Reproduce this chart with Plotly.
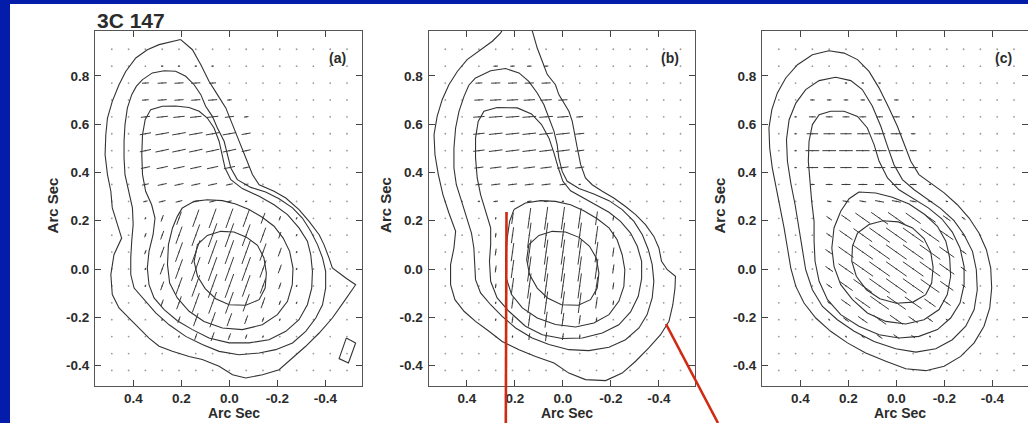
import math
import plotly.graph_objects as go

# ---------------------------------------------------------------
# 3C 147 polarization maps: total-intensity contours + E-vectors
# ---------------------------------------------------------------

# polarization sampling grid (arcsec, RA offset decreasing to the right)
GRID_X = [0.49, 0.42, 0.35, 0.28, 0.21, 0.14, 0.07, 0.0, -0.07, -0.14,
          -0.21, -0.28, -0.35, -0.42, -0.49]
GRID_Y = [0.91, 0.84, 0.77, 0.70, 0.63, 0.56, 0.49, 0.42, 0.35, 0.28,
          0.21, 0.14, 0.07, 0.0, -0.07, -0.14, -0.21, -0.28, -0.35, -0.42]
VEC_UNIT = 0.0095  # arcsec of vector length per step (hex digit)

# vector lengths, one hex digit per grid column, one string per grid row
POL_LEN_A = [
    "000000000000000", "000111100000000", "003444300000000", "003444420000000",
    "004555542000000", "005666664000000", "005666664000000", "004555553000000",
    "003444432000000", "002333321000000", "001368998521000", "00248abba731000",
    "00259bbbb841000", "00159bbbb841000", "00148abba731000", "000369aa8521000",
    "000136764210000", "000013432100000", "000000000000000", "000000000000000",
]
POL_LEN_B = [
    "000000000000000", "000222200000000", "003444400000000", "004555540000000",
    "005666653000000", "005666664000000", "005666664000000", "004555554000000",
    "003444431000000", "001222210000000", "000159aa9620000", "00027bbbb830000",
    "00038bbbb940000", "00038bbbb940000", "00027bbbb830000", "000159aa9520000",
    "000136764200000", "000013432000000", "000000000000000", "000000000000000",
]
POL_LEN_C = [
    "000000000000000", "000000000000000", "000011100000000", "002222220000000",
    "013333331000000", "015555552000000", "016666663000000", "015555554100000",
    "002344443100000", "000233443210000", "000358998642000", "00037abbba72000",
    "00048bbbbb83000", "00048bbbbb83000", "00037abbba72000", "000258aa9641000",
    "000135775310000", "000012332100000", "000000000000000", "000000000000000",
]
# position angle of the vectors on each row (degrees, counter-clockwise on the sky map)
POL_ANG_A = [0, 2, 3, 4, 6, 10, 12, 12, 12, 14, 70, 70, 70, 70, 70, 70, 70, 70, 70, 70]
POL_ANG_B = [0, 2, 2, 3, 4, 6, 7, 7, 7, 8, 82, 82, 82, 82, 82, 82, 82, 82, 82, 82]
POL_ANG_C = [0, 0, 0, 0, 0, 0, 0, 0, 0, -10, -35, -35, -35, -35, -35, -35, -35, -35, -35, -35]

# ---- contour polylines (arcsec), panel (a) ----
A_LEV1 = [(0.203, 0.950), (0.251, 0.940), (0.293, 0.929), (0.342, 0.908), (0.390, 0.874),
          (0.432, 0.818), (0.460, 0.763), (0.488, 0.694), (0.508, 0.625), (0.515, 0.556),
          (0.518, 0.473), (0.508, 0.391), (0.494, 0.322), (0.488, 0.253), (0.467, 0.184),
          (0.449, 0.128), (0.481, 0.059), (0.494, -0.023), (0.488, -0.106), (0.460, -0.161),
          (0.418, -0.203), (0.376, -0.244), (0.335, -0.286), (0.293, -0.320), (0.238, -0.341),
          (0.168, -0.362), (0.113, -0.375), (0.043, -0.403), (-0.013, -0.438), (-0.068, -0.451),
          (-0.138, -0.438), (-0.207, -0.417), (-0.263, -0.369), (-0.318, -0.320), (-0.374, -0.265),
          (-0.429, -0.203), (-0.478, -0.134), (-0.526, -0.065), (-0.485, -0.037), (-0.429, 0.004),
          (-0.415, 0.046), (-0.394, 0.101), (-0.374, 0.142), (-0.332, 0.197), (-0.290, 0.246),
          (-0.235, 0.294), (-0.186, 0.322), (-0.124, 0.349), (-0.096, 0.391), (-0.068, 0.460),
          (-0.040, 0.529), (-0.013, 0.598), (0.015, 0.667), (0.050, 0.722), (0.085, 0.777),
          (0.119, 0.846), (0.154, 0.908)]
A_LEV2 = [(0.362, 0.784), (0.321, 0.812), (0.272, 0.821), (0.224, 0.819), (0.182, 0.798),
          (0.147, 0.763), (0.119, 0.722), (0.099, 0.674), (0.071, 0.632), (0.050, 0.584),
          (0.022, 0.529), (0.008, 0.473), (-0.006, 0.418), (-0.033, 0.370), (-0.089, 0.338),
          (-0.151, 0.319), (-0.207, 0.291), (-0.263, 0.253), (-0.304, 0.211), (-0.339, 0.156),
          (-0.367, 0.101), (-0.388, 0.046), (-0.401, -0.010), (-0.401, -0.079), (-0.388, -0.148),
          (-0.360, -0.203), (-0.318, -0.258), (-0.263, -0.306), (-0.193, -0.334), (-0.124, -0.348),
          (-0.040, -0.355), (0.043, -0.341), (0.113, -0.313), (0.182, -0.279), (0.251, -0.231),
          (0.307, -0.182), (0.356, -0.127), (0.397, -0.079), (0.411, -0.023), (0.411, 0.046),
          (0.407, 0.115), (0.401, 0.184), (0.404, 0.253), (0.421, 0.322), (0.435, 0.391),
          (0.439, 0.460), (0.439, 0.529), (0.435, 0.598), (0.425, 0.667), (0.407, 0.722),
          (0.388, 0.756)]
A_LEV3 = [(0.279, 0.674), (0.328, 0.660), (0.351, 0.618), (0.362, 0.556), (0.365, 0.473),
          (0.362, 0.391), (0.349, 0.322), (0.324, 0.266), (0.310, 0.211), (0.318, 0.142),
          (0.335, 0.073), (0.342, 0.004), (0.335, -0.065), (0.314, -0.120), (0.272, -0.168),
          (0.217, -0.214), (0.154, -0.251), (0.085, -0.286), (0.001, -0.306), (-0.082, -0.306),
          (-0.165, -0.293), (-0.235, -0.258), (-0.290, -0.210), (-0.325, -0.148), (-0.343, -0.079),
          (-0.346, -0.010), (-0.339, 0.059), (-0.325, 0.115), (-0.290, 0.170), (-0.242, 0.225),
          (-0.186, 0.266), (-0.124, 0.301), (-0.054, 0.333), (-0.006, 0.370), (0.018, 0.418),
          (0.029, 0.473), (0.043, 0.529), (0.064, 0.584), (0.092, 0.625), (0.126, 0.653),
          (0.168, 0.669), (0.224, 0.675)]
A_LEV4 = [(0.196, 0.253), (0.147, 0.280), (0.092, 0.287), (0.029, 0.283), (-0.026, 0.269),
          (-0.082, 0.246), (-0.137, 0.214), (-0.186, 0.177), (-0.224, 0.128), (-0.251, 0.073),
          (-0.265, 0.004), (-0.262, -0.065), (-0.242, -0.134), (-0.200, -0.189), (-0.137, -0.231),
          (-0.054, -0.251), (0.029, -0.244), (0.106, -0.217), (0.168, -0.175), (0.217, -0.120),
          (0.249, -0.058), (0.258, 0.018), (0.254, 0.101), (0.237, 0.170), (0.217, 0.218)]
A_LEV5 = [(0.133, 0.101), (0.092, 0.139), (0.036, 0.156), (-0.019, 0.153), (-0.071, 0.132),
          (-0.117, 0.098), (-0.144, 0.046), (-0.154, -0.017), (-0.149, -0.079), (-0.124, -0.127),
          (-0.068, -0.150), (0.001, -0.148), (0.057, -0.123), (0.101, -0.081), (0.133, -0.030),
          (0.147, 0.032)]
A_ISLAND = [(-0.487, -0.286), (-0.526, -0.306), (-0.496, -0.389), (-0.457, -0.371)]

# ---- contour polylines, panel (b) ----
B_LEV1 = [(0.239, 1.012), (0.260, 0.977), (0.294, 0.943), (0.343, 0.908), (0.399, 0.867),
          (0.440, 0.818), (0.475, 0.763), (0.503, 0.701), (0.524, 0.632), (0.537, 0.556),
          (0.533, 0.473), (0.519, 0.391), (0.500, 0.308), (0.475, 0.232), (0.447, 0.156),
          (0.454, 0.087), (0.468, 0.018), (0.468, -0.065), (0.450, -0.127), (0.412, -0.175),
          (0.364, -0.217), (0.308, -0.258), (0.253, -0.300), (0.183, -0.334), (0.114, -0.362),
          (0.037, -0.389), (-0.025, -0.431), (-0.094, -0.458), (-0.178, -0.462), (-0.247, -0.431),
          (-0.303, -0.382), (-0.358, -0.327), (-0.407, -0.272), (-0.442, -0.217), (-0.458, -0.148),
          (-0.467, -0.079), (-0.469, -0.030), (-0.435, -0.003), (-0.411, 0.032), (-0.400, 0.087),
          (-0.379, 0.135), (-0.344, 0.184), (-0.303, 0.225), (-0.261, 0.259), (-0.212, 0.294),
          (-0.164, 0.322), (-0.122, 0.349), (-0.094, 0.377), (-0.074, 0.432), (-0.060, 0.501),
          (-0.050, 0.556), (-0.039, 0.611), (-0.025, 0.653), (-0.004, 0.687), (0.017, 0.722),
          (0.031, 0.763), (0.065, 0.805), (0.086, 0.860), (0.107, 0.915), (0.121, 0.963),
          (0.135, 1.012)]
B_LEV2 = [(0.364, 0.791), (0.301, 0.821), (0.239, 0.830), (0.183, 0.812), (0.142, 0.777),
          (0.107, 0.729), (0.079, 0.680), (0.058, 0.625), (0.037, 0.570), (0.024, 0.515),
          (0.017, 0.460), (0.003, 0.404), (-0.018, 0.363), (-0.067, 0.333), (-0.129, 0.311),
          (-0.192, 0.283), (-0.247, 0.246), (-0.296, 0.197), (-0.331, 0.142), (-0.356, 0.080),
          (-0.372, 0.018), (-0.379, -0.051), (-0.372, -0.120), (-0.351, -0.189), (-0.317, -0.244),
          (-0.261, -0.293), (-0.192, -0.324), (-0.108, -0.338), (-0.025, -0.334), (0.058, -0.313),
          (0.128, -0.286), (0.197, -0.244), (0.253, -0.196), (0.301, -0.148), (0.343, -0.099),
          (0.364, -0.044), (0.367, 0.018), (0.371, 0.087), (0.381, 0.149), (0.399, 0.211),
          (0.422, 0.280), (0.444, 0.349), (0.454, 0.418), (0.454, 0.501), (0.447, 0.584),
          (0.433, 0.653), (0.412, 0.715), (0.392, 0.761)]
B_LEV3 = [(0.274, 0.669), (0.329, 0.653), (0.353, 0.611), (0.364, 0.542), (0.364, 0.460),
          (0.357, 0.377), (0.343, 0.308), (0.322, 0.239), (0.301, 0.170), (0.301, 0.101),
          (0.306, 0.032), (0.301, -0.051), (0.274, -0.120), (0.225, -0.175), (0.156, -0.237),
          (0.086, -0.272), (0.003, -0.288), (-0.081, -0.286), (-0.164, -0.265), (-0.233, -0.231),
          (-0.282, -0.178), (-0.314, -0.113), (-0.328, -0.040), (-0.328, 0.032), (-0.310, 0.094),
          (-0.282, 0.149), (-0.240, 0.197), (-0.192, 0.235), (-0.136, 0.266), (-0.081, 0.294),
          (-0.032, 0.324), (0.000, 0.363), (0.019, 0.418), (0.037, 0.480), (0.058, 0.542),
          (0.089, 0.598), (0.131, 0.642), (0.190, 0.667)]
B_LEV4 = [(0.204, 0.246), (0.156, 0.273), (0.093, 0.283), (0.031, 0.280), (-0.032, 0.266),
          (-0.087, 0.241), (-0.143, 0.208), (-0.192, 0.170), (-0.226, 0.121), (-0.247, 0.059),
          (-0.258, -0.003), (-0.254, -0.072), (-0.233, -0.134), (-0.192, -0.189), (-0.129, -0.224),
          (-0.053, -0.240), (0.031, -0.230), (0.107, -0.203), (0.169, -0.161), (0.214, -0.106),
          (0.236, -0.037), (0.239, 0.046), (0.232, 0.128), (0.222, 0.197)]
B_LEV5 = [(0.142, 0.101), (0.100, 0.139), (0.044, 0.156), (-0.011, 0.153), (-0.067, 0.131),
          (-0.111, 0.094), (-0.139, 0.046), (-0.150, -0.017), (-0.143, -0.079), (-0.115, -0.127),
          (-0.064, -0.150), (0.006, -0.148), (0.064, -0.120), (0.107, -0.079), (0.139, -0.023),
          (0.151, 0.039)]

# ---- contour polylines, panel (c) ----
C_LEV1 = [(0.281, 0.904), (0.350, 0.887), (0.412, 0.846), (0.461, 0.791), (0.496, 0.729),
          (0.519, 0.660), (0.531, 0.584), (0.528, 0.501), (0.517, 0.418), (0.500, 0.335),
          (0.482, 0.253), (0.468, 0.170), (0.454, 0.087), (0.440, 0.004), (0.419, -0.072),
          (0.385, -0.141), (0.336, -0.203), (0.274, -0.258), (0.204, -0.306), (0.128, -0.348),
          (0.044, -0.382), (-0.039, -0.413), (-0.122, -0.421), (-0.199, -0.403), (-0.268, -0.362),
          (-0.324, -0.306), (-0.365, -0.237), (-0.389, -0.161), (-0.397, -0.079), (-0.393, 0.004),
          (-0.375, 0.080), (-0.344, 0.149), (-0.303, 0.211), (-0.254, 0.266), (-0.199, 0.315),
          (-0.143, 0.356), (-0.094, 0.391), (-0.060, 0.446), (-0.032, 0.515), (-0.004, 0.591),
          (0.031, 0.667), (0.072, 0.749), (0.114, 0.818), (0.162, 0.867), (0.218, 0.894)]
C_LEV2 = [(0.253, 0.794), (0.322, 0.780), (0.378, 0.743), (0.419, 0.687), (0.447, 0.618),
          (0.458, 0.536), (0.454, 0.446), (0.440, 0.356), (0.422, 0.266), (0.408, 0.177),
          (0.394, 0.087), (0.378, -0.003), (0.350, -0.086), (0.308, -0.155), (0.246, -0.210),
          (0.176, -0.258), (0.093, -0.300), (0.003, -0.330), (-0.081, -0.344), (-0.164, -0.330),
          (-0.233, -0.293), (-0.289, -0.237), (-0.324, -0.168), (-0.337, -0.086), (-0.333, -0.003),
          (-0.317, 0.073), (-0.282, 0.142), (-0.240, 0.200), (-0.185, 0.250), (-0.129, 0.291),
          (-0.074, 0.328), (-0.025, 0.370), (0.010, 0.432), (0.037, 0.508), (0.065, 0.591),
          (0.100, 0.674), (0.142, 0.743), (0.190, 0.780)]
C_LEV3 = [(0.274, 0.653), (0.322, 0.639), (0.350, 0.598), (0.364, 0.529), (0.367, 0.446),
          (0.361, 0.363), (0.353, 0.280), (0.343, 0.197), (0.343, 0.115), (0.339, 0.032),
          (0.322, -0.051), (0.287, -0.127), (0.232, -0.189), (0.156, -0.237), (0.072, -0.272),
          (-0.011, -0.286), (-0.094, -0.279), (-0.171, -0.251), (-0.226, -0.203), (-0.265, -0.141),
          (-0.282, -0.065), (-0.282, 0.011), (-0.265, 0.087), (-0.233, 0.153), (-0.189, 0.208),
          (-0.133, 0.253), (-0.074, 0.291), (-0.011, 0.328), (0.037, 0.377), (0.072, 0.446),
          (0.093, 0.515), (0.121, 0.584), (0.162, 0.632), (0.218, 0.653)]
C_LEV4 = [(0.156, 0.319), (0.086, 0.315), (0.017, 0.297), (-0.053, 0.269), (-0.115, 0.228),
          (-0.171, 0.177), (-0.206, 0.115), (-0.222, 0.046), (-0.226, -0.030), (-0.212, -0.106),
          (-0.178, -0.168), (-0.115, -0.210), (-0.039, -0.228), (0.044, -0.217), (0.121, -0.182),
          (0.183, -0.127), (0.232, -0.065), (0.260, 0.011), (0.269, 0.087), (0.260, 0.170),
          (0.232, 0.239), (0.197, 0.291)]
C_LEV5 = [(0.162, 0.149), (0.114, 0.184), (0.056, 0.200), (-0.008, 0.195), (-0.067, 0.170),
          (-0.115, 0.126), (-0.143, 0.070), (-0.153, 0.007), (-0.147, -0.058), (-0.122, -0.106),
          (-0.069, -0.137), (0.000, -0.142), (0.069, -0.123), (0.125, -0.086), (0.167, -0.030),
          (0.186, 0.032), (0.183, 0.094)]

# axis ticks
X_TICKS = [0.4, 0.2, 0.0, -0.2, -0.4]
X_TICKTEXT = ["0.4", "0.2", "0.0", "-0.2", "-0.4"]
Y_TICKS = [0.8, 0.6, 0.4, 0.2, 0.0, -0.2, -0.4]
Y_TICKTEXT = ["0.8", "0.6", "0.4", "0.2", "0.0", "-0.2", "-0.4"]
PANEL_LABELS = ["(a)", "(b)", "(c)"]

# ---------------------------------------------------------------
W, H = 1028, 423
FONT = "Liberation Sans, Arial, Helvetica, sans-serif"
INK = "#2b2b2b"
BLUE = "#041caa"
RED = "#d12a12"

X_RANGE = [0.56, -0.5504]
Y_RANGE = [-0.4824, 0.9855]
PANEL_LEFT_PX = [95.0, 428.5, 762.0]
PANEL_W_PX = 266.5
Y_DOMAIN = [(H - 385.5) / H, (H - 31.0) / H]

panels = [
    dict(contours=[A_LEV1, A_LEV2, A_LEV3, A_LEV4, A_LEV5, A_ISLAND], closed=[1, 1, 1, 1, 1, 1],
         lens=POL_LEN_A, angs=POL_ANG_A),
    dict(contours=[B_LEV1, B_LEV2, B_LEV3, B_LEV4, B_LEV5], closed=[0, 1, 1, 1, 1],
         lens=POL_LEN_B, angs=POL_ANG_B),
    dict(contours=[C_LEV1, C_LEV2, C_LEV3, C_LEV4, C_LEV5], closed=[1, 1, 1, 1, 1],
         lens=POL_LEN_C, angs=POL_ANG_C),
]

fig = go.Figure()

for k, p in enumerate(panels):
    xa = "x" if k == 0 else f"x{k + 1}"
    ya = "y" if k == 0 else f"y{k + 1}"

    # grid dots at every polarization sample
    gx, gy = [], []
    for yv in GRID_Y:
        for xv in GRID_X:
            gx.append(xv)
            gy.append(yv)
    fig.add_trace(go.Scatter(x=gx, y=gy, mode="markers", xaxis=xa, yaxis=ya,
                             marker=dict(size=1.8, color="#9a9a9a"),
                             hoverinfo="skip", showlegend=False))

    # contours
    cx, cy = [], []
    for pts, closed in zip(p["contours"], p["closed"]):
        seq = list(pts) + ([pts[0]] if closed else [])
        cx += [q[0] for q in seq] + [None]
        cy += [q[1] for q in seq] + [None]
    fig.add_trace(go.Scatter(x=cx, y=cy, mode="lines", xaxis=xa, yaxis=ya,
                             line=dict(color="#333333", width=1.1),
                             hoverinfo="skip", showlegend=False))

    # polarization E-vectors centred on the grid points
    vx, vy = [], []
    for j, yv in enumerate(GRID_Y):
        th = math.radians(p["angs"][j])
        for i, xv in enumerate(GRID_X):
            n = int(p["lens"][j][i], 16)
            if n == 0:
                continue
            half = 0.5 * n * VEC_UNIT
            hx, hy = half * math.cos(th), half * math.sin(th)
            # x axis runs right-to-left, so screen-right is decreasing x
            vx += [xv + hx, xv - hx, None]
            vy += [yv - hy, yv + hy, None]
    fig.add_trace(go.Scatter(x=vx, y=vy, mode="lines", xaxis=xa, yaxis=ya,
                             line=dict(color="#3a3a3a", width=1.0),
                             hoverinfo="skip", showlegend=False))

axis_common = dict(showgrid=False, zeroline=False, ticks="inside", ticklen=6, tickwidth=1,
                   tickcolor="#444444", showline=True, linecolor="#555555", linewidth=1,
                   mirror="ticks",
                   tickfont=dict(family=FONT, size=13.5, color=INK, weight="bold"))

layout_axes = {}
for k in range(3):
    left = PANEL_LEFT_PX[k] / W
    right = min(1.0, (PANEL_LEFT_PX[k] + PANEL_W_PX) / W)
    xname = "xaxis" if k == 0 else f"xaxis{k + 1}"
    yname = "yaxis" if k == 0 else f"yaxis{k + 1}"
    anchor_x = "x" if k == 0 else f"x{k + 1}"
    anchor_y = "y" if k == 0 else f"y{k + 1}"
    xr = list(X_RANGE)
    if k == 2:
        xr[1] = X_RANGE[0] - (W - PANEL_LEFT_PX[k]) / 240.0
    layout_axes[xname] = dict(axis_common, domain=[left, right], range=xr, anchor=anchor_y,
                              tickvals=X_TICKS, ticktext=X_TICKTEXT, ticklabelstandoff=0)
    layout_axes[yname] = dict(axis_common, domain=Y_DOMAIN, range=Y_RANGE, anchor=anchor_x,
                              tickvals=Y_TICKS, ticktext=Y_TICKTEXT, ticklabelstandoff=2)

annotations = []
for k in range(3):
    xd = "x domain" if k == 0 else f"x{k + 1} domain"
    yd = "y domain" if k == 0 else f"y{k + 1} domain"
    # axis titles
    annotations.append(dict(text="Arc Sec", xref=xd, yref="paper", x=0.52, y=(H - 413.0) / H,
                            xanchor="center", yanchor="middle", showarrow=False,
                            font=dict(family=FONT, size=14, color=INK, weight="bold")))
    annotations.append(dict(text="Arc Sec", xref=xd, yref=yd, x=-43 / PANEL_W_PX, y=0.508,
                            xanchor="center", yanchor="middle", textangle=-90, showarrow=False,
                            font=dict(family=FONT, size=15, color=INK, weight="bold")))
    # panel tag
    annotations.append(dict(text=PANEL_LABELS[k], xref=xd, yref=yd, x=0.948, y=0.924,
                            xanchor="right", yanchor="middle", showarrow=False,
                            font=dict(family=FONT, size=14, color=INK, weight="bold")))

annotations.append(dict(text="3C 147", xref="paper", yref="paper", x=95 / W, y=(H - 21) / H,
                        xanchor="left", yanchor="middle", showarrow=False,
                        font=dict(family=FONT, size=21, color=INK, weight="bold")))

shapes = [
    # white page on the blue slide
    dict(type="rect", xref="paper", yref="paper", x0=10 / W, x1=1.0, y0=0, y1=(H - 4) / H,
         fillcolor="white", line=dict(width=0), layer="below"),
    # red pointer lines
    dict(type="line", xref="paper", yref="paper", x0=506.5 / W, y0=(H - 212) / H,
         x1=505.8 / W, y1=0, line=dict(color=RED, width=2.6), layer="above"),
    dict(type="line", xref="paper", yref="paper", x0=666 / W, y0=(H - 324) / H,
         x1=718 / W, y1=0, line=dict(color=RED, width=2.6), layer="above"),
]

fig.update_layout(width=W, height=H, autosize=False,
                  margin=dict(l=0, r=0, t=0, b=0, pad=0),
                  paper_bgcolor=BLUE, plot_bgcolor="white",
                  showlegend=False, annotations=annotations, shapes=shapes,
                  **layout_axes)

fig.write_html("out.html", config=dict(displayModeBar=False))
